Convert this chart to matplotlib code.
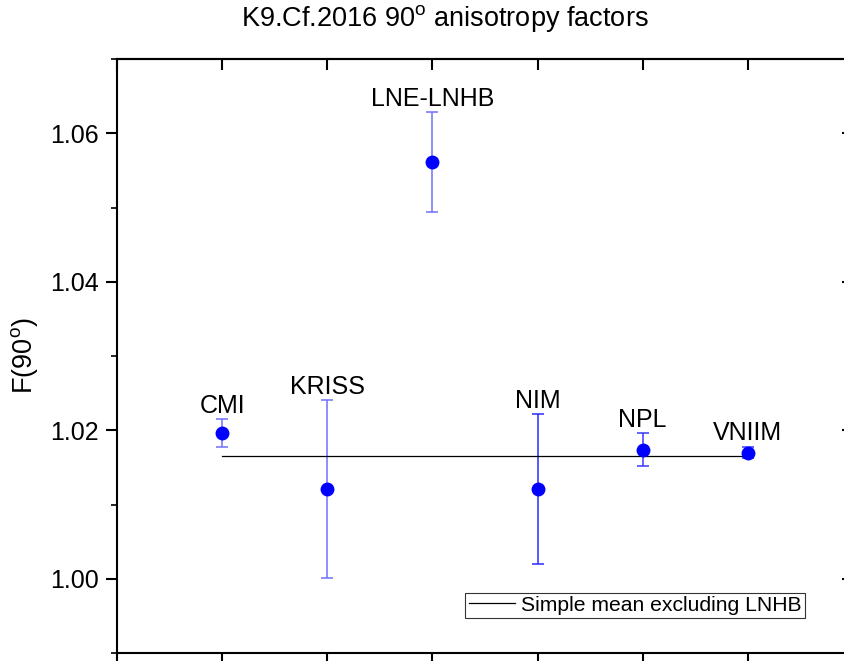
import numpy as np
import matplotlib
matplotlib.use("Agg")
import matplotlib.pyplot as plt
from matplotlib.ticker import MultipleLocator

plt.rcParams['font.family'] = ['Liberation Sans', 'DejaVu Sans']
plt.rcParams['mathtext.fontset'] = 'custom'
plt.rcParams['mathtext.rm'] = 'Liberation Sans'

# values
labs = ["CMI", "KRISS", "LNE-LNHB", "NIM", "NPL", "VNIIM"]
xpos = [1, 2, 3, 4, 5, 6]
F90 = [1.0196, 1.0121, 1.0561, 1.0121, 1.0174, 1.0170]
F90_err = [0.0019, 0.0120, 0.0067, 0.0101, 0.0022, 0.0008]
mean_excl = 1.0165
err_cols = ["#6f6fff", "#6f6fff", "#6f6fff", "#2a2aff", "#3a3aff", "#3a3aff"]

fig = plt.figure(figsize=(8.44, 6.61), dpi=100)
ax = fig.add_axes([117/844, 8/661, 736/844, 594/661])

for xi, yi, ei, c in zip(xpos, F90, F90_err, err_cols):
    ax.errorbar(xi, yi, yerr=ei, fmt="none", ecolor=c, elinewidth=1.1,
                capsize=4.5, capthick=1.1, zorder=2)
ax.plot(xpos, F90, "o", color="#0000ff", markersize=10, markeredgewidth=0, zorder=4)

ax.plot(xpos, [mean_excl]*len(xpos), "-", color="k", linewidth=0.9,
        label="Simple mean excluding LNHB", zorder=3)

for xi, yi, ei, l in zip(xpos, F90, F90_err, labs):
    ax.annotate(l, (xi, yi+ei), xytext=(0, 4.5), textcoords="offset points",
                ha="center", va="baseline", fontsize=18)

ax.set_xlim(0, 7)
ax.set_ylim(0.99, 1.07)
ax.xaxis.set_major_locator(MultipleLocator(1))
ax.yaxis.set_major_locator(MultipleLocator(0.02))
ax.yaxis.set_minor_locator(MultipleLocator(0.01))
ax.set_yticklabels([f"{v:.2f}" for v in ax.get_yticks()])

for s in ax.spines.values():
    s.set_linewidth(1.5)
ax.tick_params(axis="x", which="major", bottom=True, top=False, direction="out",
               length=8, width=1.5, labelbottom=False)
ax.tick_params(axis="y", which="major", left=True, right=False, direction="out",
               length=8, width=1.5, labelsize=18, pad=5)
ax.tick_params(axis="y", which="minor", left=True, right=False, direction="out",
               length=4.5, width=1.2)

# inward ticks on the top and right
ax2 = ax.secondary_xaxis("top")
ax2.xaxis.set_major_locator(MultipleLocator(1))
ax2.tick_params(direction="in", length=8, width=1.5, labeltop=False)
ax3 = ax.secondary_yaxis("right")
ax3.yaxis.set_major_locator(MultipleLocator(0.02))
ax3.yaxis.set_minor_locator(MultipleLocator(0.01))
ax3.tick_params(which="major", direction="in", length=8, width=1.5, labelright=False)
ax3.tick_params(which="minor", direction="in", length=3, width=1.2)
ax2.spines["top"].set_linewidth(1.5)
ax3.spines["right"].set_linewidth(1.5)

ax.set_ylabel(r"F(90$^{\rm o}$)", fontsize=19.5, labelpad=7)

fig.text(445/844, 1-26/661, r"K9.Cf.2016 90$^{\rm o}$ anisotropy factors",
         ha="center", va="baseline", fontsize=19.5)

leg = ax.legend(loc="lower right", bbox_to_anchor=(0.935, 0.059), fontsize=15.2,
                frameon=True, fancybox=False, borderpad=0.15, handlelength=2.2,
                handletextpad=0.3, borderaxespad=0)
leg.get_frame().set_edgecolor("k")
leg.get_frame().set_linewidth(0.8)

fig.savefig("out.png", dpi=100)
